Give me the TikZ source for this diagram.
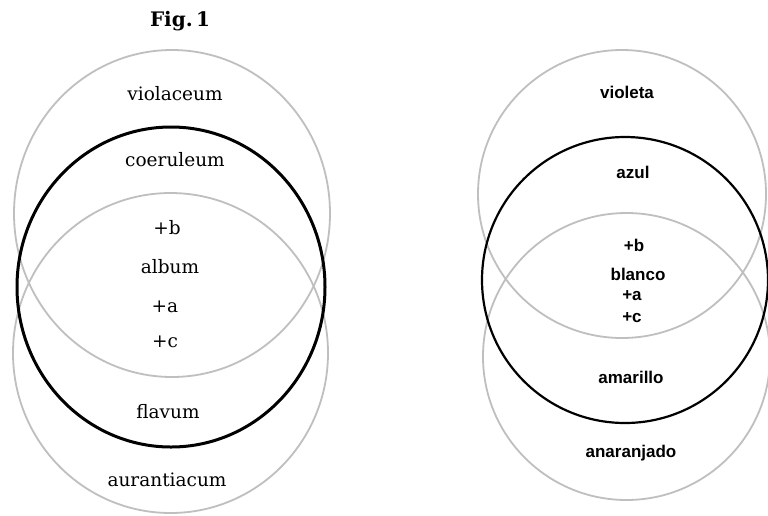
\documentclass[tikz,border=0pt]{standalone}
\usepackage{fontspec}
\setmainfont{DejaVu Serif}
\newfontfamily\lblsans{Liberation Sans}
\tikzset{
  graycirc/.style={draw=black!25, line width=1.8pt},
  blackcirc/.style={draw=black, line width=3pt},
  blackcircr/.style={draw=black, line width=2.2pt},
  serlbl/.style={font=\fontsize{18.5}{21}\selectfont, inner sep=0pt},
  sanlbl/.style={font=\lblsans\bfseries\fontsize{17}{20}\selectfont, inner sep=0pt},
}
\begin{document}
\begin{tikzpicture}[x=1pt,y=-1pt]
\useasboundingbox[fill=white] (0,0) rectangle (768,515);
% left figure
\draw[graycirc] (172,213.5) ellipse [x radius=158, y radius=163.5];
\draw[graycirc] (170.5,353) ellipse [x radius=157.5, y radius=160];
\draw[blackcirc] (171,287) ellipse [x radius=154, y radius=160];
\node[font=\bfseries\fontsize{20}{23}\selectfont, inner sep=0pt] (fig) at (180,21) {Fig.\,1};
\node[serlbl] (viol) at (175,94) {violaceum};
\node[serlbl] (coer) at (175,160) {coeruleum};
\node[serlbl] (bl) at (167,228) {+b};
\node[serlbl] (alb) at (170,267) {album};
\node[serlbl] (al) at (165,307) {+a};
\node[serlbl] (cl) at (165,342) {+c};
\node[serlbl] (flav) at (168,412) {flavum};
\node[serlbl] (aur) at (167,480) {aurantiacum};
% right figure
\draw[graycirc] (622,194) circle [radius=144];
\draw[graycirc] (626.5,356.5) circle [radius=143.5];
\draw[blackcircr] (625,280) ellipse [x radius=143, y radius=143];
\node[sanlbl] (vio) at (627,92) {violeta};
\node[sanlbl] (azu) at (633,172) {azul};
\node[sanlbl] (br) at (634,245) {+b};
\node[sanlbl] (bla) at (638,274) {blanco};
\node[sanlbl] (ar) at (632,296) {+a};
\node[sanlbl] (cr) at (632,318) {+c};
\node[sanlbl] (ama) at (631,377) {amarillo};
\node[sanlbl] (ana) at (631,453) {anaranjado};
\end{tikzpicture}
\end{document}
